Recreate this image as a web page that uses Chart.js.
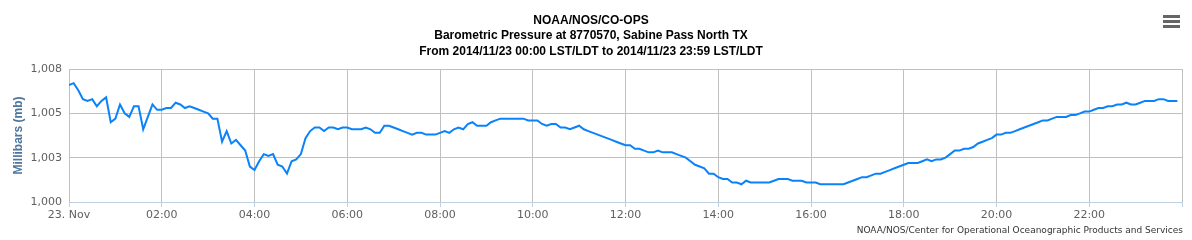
<!DOCTYPE html>
<html>
<head>
<meta charset="utf-8">
<title>Barometric Pressure 8770570</title>
<script src="https://cdn.jsdelivr.net/npm/chart.js@4/dist/chart.umd.min.js"></script>
<style>
    html, body { margin: 0; padding: 0; background: #fff; }
    #wrap { width: 1192px; height: 240px; }
</style>
</head>
<body>
<div id="wrap"><canvas id="pressureChart" width="1192" height="240"></canvas></div>
<script>
// chart text
const titleLines = [
    'NOAA/NOS/CO-OPS',
    'Barometric Pressure at 8770570, Sabine Pass North TX',
    'From 2014/11/23 00:00 LST/LDT to 2014/11/23 23:59 LST/LDT'
];
const yAxisTitle = 'Millibars (mb)';
const creditText = 'NOAA/NOS/Center for Operational Oceanographic Products and Services';

// x axis: minutes after midnight, one reading every 6 minutes
const sampleMinutes = 6;
const xTickLabels = ['23. Nov', '02:00', '04:00', '06:00', '08:00', '10:00',
    '12:00', '14:00', '16:00', '18:00', '20:00', '22:00'];
const yTickLabels = ['1,000', '1,003', '1,005', '1,008'];

// barometric pressure (mb), 00:00 .. 23:54
const pressure = [
    1006.6, 1006.7, 1006.3, 1005.8, 1005.7, 1005.8, 1005.4, 1005.7, 1005.9, 1004.5,
    1004.7, 1005.5, 1005.0, 1004.8, 1005.4, 1005.4, 1004.1, 1004.8, 1005.5, 1005.2,
    1005.2, 1005.3, 1005.3, 1005.6, 1005.5, 1005.3, 1005.4, 1005.3, 1005.2, 1005.1,
    1005.0, 1004.7, 1004.7, 1003.4, 1004.0, 1003.3, 1003.5, 1003.2, 1002.9, 1002.0,
    1001.8, 1002.3, 1002.7, 1002.6, 1002.7, 1002.1, 1002.0, 1001.6, 1002.3, 1002.4,
    1002.7, 1003.6, 1004.0, 1004.2, 1004.2, 1004.0, 1004.2, 1004.2, 1004.1, 1004.2,
    1004.2, 1004.1, 1004.1, 1004.1, 1004.2, 1004.1, 1003.9, 1003.9, 1004.3, 1004.3,
    1004.2, 1004.1, 1004.0, 1003.9, 1003.8, 1003.9, 1003.9, 1003.8, 1003.8, 1003.8,
    1003.9, 1004.0, 1003.9, 1004.1, 1004.2, 1004.1, 1004.4, 1004.5, 1004.3, 1004.3,
    1004.3, 1004.5, 1004.6, 1004.7, 1004.7, 1004.7, 1004.7, 1004.7, 1004.7, 1004.6,
    1004.6, 1004.6, 1004.4, 1004.3, 1004.4, 1004.4, 1004.2, 1004.2, 1004.1, 1004.2,
    1004.3, 1004.1, 1004.0, 1003.9, 1003.8, 1003.7, 1003.6, 1003.5, 1003.4, 1003.3,
    1003.2, 1003.2, 1003.0, 1003.0, 1002.9, 1002.8, 1002.8, 1002.9, 1002.8, 1002.8,
    1002.8, 1002.7, 1002.6, 1002.5, 1002.3, 1002.1, 1002.0, 1001.9, 1001.6, 1001.6,
    1001.4, 1001.3, 1001.3, 1001.1, 1001.1, 1001.0, 1001.2, 1001.1, 1001.1, 1001.1,
    1001.1, 1001.1, 1001.2, 1001.3, 1001.3, 1001.3, 1001.2, 1001.2, 1001.2, 1001.1,
    1001.1, 1001.1, 1001.0, 1001.0, 1001.0, 1001.0, 1001.0, 1001.0, 1001.1, 1001.2,
    1001.3, 1001.4, 1001.4, 1001.5, 1001.6, 1001.6, 1001.7, 1001.8, 1001.9, 1002.0,
    1002.1, 1002.2, 1002.2, 1002.2, 1002.3, 1002.4, 1002.3, 1002.4, 1002.4, 1002.5,
    1002.7, 1002.9, 1002.9, 1003.0, 1003.0, 1003.1, 1003.3, 1003.4, 1003.5, 1003.6,
    1003.8, 1003.8, 1003.9, 1003.9, 1004.0, 1004.1, 1004.2, 1004.3, 1004.4, 1004.5,
    1004.6, 1004.6, 1004.7, 1004.8, 1004.8, 1004.8, 1004.9, 1004.9, 1005.0, 1005.1,
    1005.1, 1005.2, 1005.3, 1005.3, 1005.4, 1005.4, 1005.5, 1005.5, 1005.6, 1005.5,
    1005.5, 1005.6, 1005.7, 1005.7, 1005.7, 1005.8, 1005.8, 1005.7, 1005.7, 1005.7
];

const points = pressure.map((p, i) => ({ x: i * sampleMinutes, y: p }));

// credits text + export menu icon, like the original page
const extrasPlugin = {
    id: 'extras',
    afterDraw(chart) {
        const ctx = chart.ctx;
        ctx.save();
        ctx.fillStyle = '#333';
        ctx.font = '9px "DejaVu Sans"';
        ctx.textAlign = 'right';
        ctx.textBaseline = 'middle';
        ctx.fillText(creditText, 1183, 231);

        ctx.fillStyle = '#666';
        [15, 20, 25].forEach(y => ctx.fillRect(1163, y, 17, 3));
        ctx.restore();
    }
};

Chart.defaults.font.family = '"DejaVu Sans", sans-serif';

new Chart(document.getElementById('pressureChart').getContext('2d'), {
    type: 'line',
    data: {
        datasets: [{
            label: 'Barometric Pressure',
            data: points,
            borderColor: '#0a82fa',
            borderWidth: 2,
            pointRadius: 0,
            tension: 0,
            fill: false
        }]
    },
    options: {
        responsive: false,
        animation: false,
        layout: { padding: { left: 0, right: 10, top: 0, bottom: 0 } },
        scales: {
            x: {
                type: 'linear',
                min: 0,
                max: 1440,
                afterBuildTicks: scale => {
                    scale.ticks = xTickLabels.map((t, i) => ({ value: i * 120 })).concat([{ value: 1440 }]);
                },
                afterFit: scale => { scale.height = 38; },
                ticks: {
                    autoSkip: false,
                    maxRotation: 0,
                    padding: 2,
                    color: '#606060',
                    font: { size: 11 },
                    callback: (v, i) => xTickLabels[i] || ''
                },
                grid: { color: '#c0c0c0', tickColor: '#c0d0e0', tickLength: 5 },
                border: { color: '#c0d0e0' }
            },
            y: {
                min: 1000,
                max: 1007.5,
                afterBuildTicks: scale => {
                    scale.ticks = yTickLabels.map((t, i) => ({ value: 1000 + i * 2.5 }));
                },
                afterFit: scale => { scale.width = 69; },
                ticks: {
                    padding: 7,
                    color: '#606060',
                    font: { size: 11 },
                    callback: (v, i) => yTickLabels[i]
                },
                title: {
                    display: true,
                    text: yAxisTitle,
                    color: '#4d759e',
                    font: { family: '"Liberation Sans", Arial, sans-serif', size: 12, weight: 'bold' },
                    padding: { top: 11, bottom: 0 }
                },
                grid: { color: '#c0c0c0', drawTicks: false },
                border: { display: false }
            }
        },
        plugins: {
            legend: { display: false },
            tooltip: { enabled: false },
            title: {
                display: true,
                text: titleLines,
                color: '#000',
                font: { family: '"Liberation Sans", Arial, sans-serif', size: 12, weight: 'bold', lineHeight: 1.3 },
                padding: { top: 12.7, bottom: 9.5 }
            }
        }
    },
    plugins: [extrasPlugin]
});
</script>
</body>
</html>
